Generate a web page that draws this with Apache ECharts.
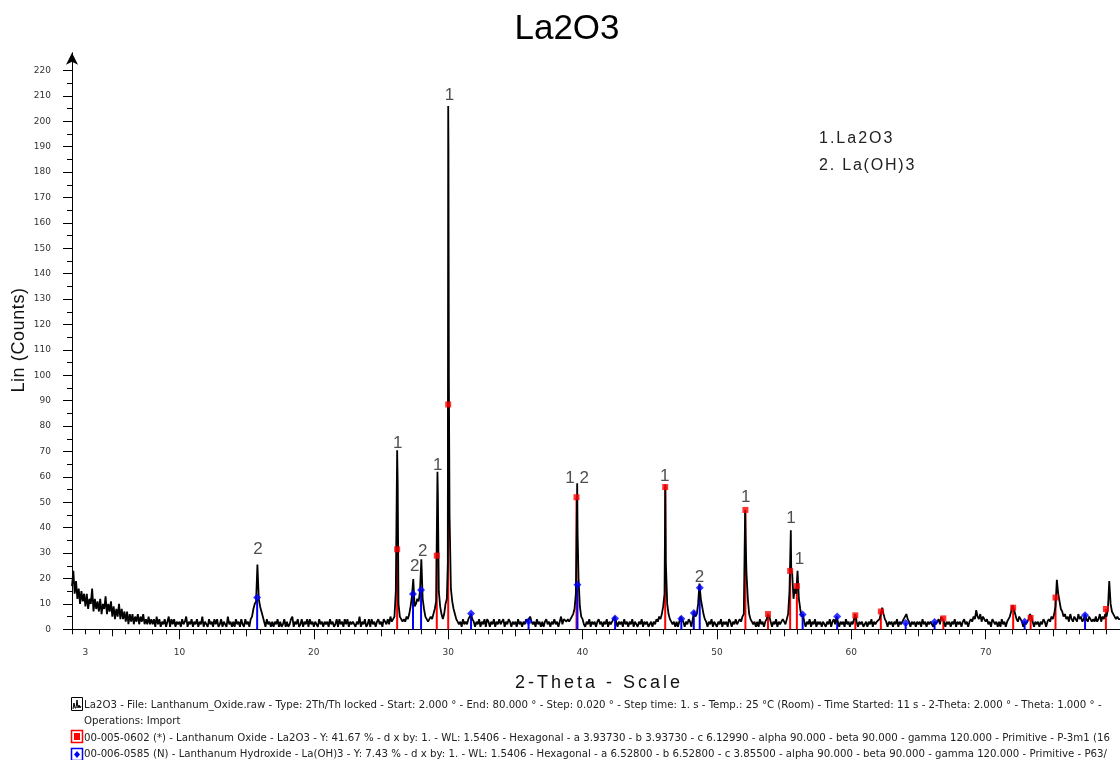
<!DOCTYPE html>
<html>
<head>
<meta charset="utf-8">
<title>La2O3</title>
<script src="https://cdn.jsdelivr.net/npm/echarts@6.0.0/dist/echarts.min.js"></script>
<style>
  html, body { margin: 0; padding: 0; background: #ffffff; }
  #chart { width: 1120px; height: 760px; }
</style>
</head>
<body>
<div id="chart"></div>
<script>
// Scan settings: 2-Theta start and grid step of the counts table below
const scanStart = 2.0;
const scanStep = 0.1;

// Lin (Counts), one row per degree of 2-Theta (x.0 ... x.9), ending at 80.0
const scanCounts = [
  17,23,14,19,12,16,10,15,11,14,   // 2
  9,14,8,12,10,16,7,12,8,11,       // 3
  7,12,6,10,8,13,6,10,7,11,        // 4
  5,9,4,8,5,10,4,8,4,7,            // 5
  3,7,2,6,3,6,2,5,3,6,             // 6
  2,5,3,6,2,4,2,5,2,4,             // 7
  2,4,1,5,2,4,1,3,2,4,             // 8
  1,3,5,1,4,2,4,1,3,2,             // 9
  3,1,4,2,3,5,1,3,2,4,             // 10
  1,3,2,4,1,3,2,5,1,3,             // 11
  3,1,4,2,3,1,4,2,4,1,             // 12
  2,4,1,3,2,1,5,2,3,1,             // 13
  3,1,4,2,3,1,4,2,1,4,             // 14
  2,3,1,4,5,8,10,11,25.5,12,       // 15
  9,7,5,3,1,4,2,3,1,3,             // 16
  1,3,2,4,1,3,1,2,4,1,             // 17
  3,1,2,4,5,1,3,2,4,1,             // 18
  2,4,1,3,2,4,1,4,2,3,             // 19
  1,3,2,1,4,2,3,1,3,2,             // 20
  3,1,4,2,3,1,2,4,1,4,             // 21
  2,3,1,4,2,4,1,3,2,3,             // 22
  3,1,3,2,5,1,3,2,4,1,             // 23
  2,4,1,4,2,3,1,3,4,2,             // 24
  3,1,4,3,2,4,2,5,3,4,             // 25
  5,15,70.5,10,5,4,3,4,3,5,        // 26
  4,6,9,13,19.8,9,10,12,11,15,     // 27
  27.6,12,8,5,4,3,4,5,4,6,         // 28
  8,11,62,15,9,6,4,6,10,12,        // 29
  206,45,16,11,8,6,4,3,2,3,        // 30
  1,4,2,3,2,4,5,6,4,3,             // 31
  1,3,2,4,1,3,2,4,1,4,             // 32
  3,1,3,2,4,1,3,2,4,2,             // 33
  2,4,1,3,2,4,3,1,3,2,             // 34
  3,1,4,2,3,1,3,2,4,3,             // 35
  4,5,3,2,3,1,4,2,3,1,             // 36
  3,1,3,4,2,3,1,3,2,4,             // 37
  2,3,1,3,5,2,4,4,3,4,             // 38
  3,4,5,6,8,14,57.5,20,9,5,        // 39
  4,2,1,3,2,4,1,3,2,3,             // 40
  1,3,4,2,3,1,3,2,4,1,             // 41
  3,2,3,4,5,3,1,3,2,3,             // 42
  1,4,2,3,1,3,2,4,1,3,             // 43
  3,1,3,2,4,1,3,2,3,1,             // 44
  2,3,1,3,2,4,3,5,4,6,             // 45
  9,14,26,10,6,4,3,2,3,1,          // 46
  3,1,3,5,4,3,1,3,2,4,             // 47
  3,1,4,7,5,6,10,18,12,9,          // 48
  6,4,3,1,3,2,4,1,3,2,             // 49
  1,3,2,4,1,3,2,3,1,4,             // 50
  3,1,3,2,4,2,3,4,3,5,             // 51
  6,47,22,12,6,4,3,2,3,1,          // 52
  3,1,4,2,3,1,3,4,6,5,             // 53
  3,1,3,2,4,1,3,2,3,4,             // 54
  3,2,4,6,15,39,22,12,16,14,       // 55
  23,12,8,5,6,3,1,3,2,4,           // 56
  1,3,2,4,1,3,2,3,1,3,             // 57
  3,1,3,2,4,1,3,4,2,5,             // 58
  3,1,3,2,3,1,4,2,3,1,             // 59
  3,2,4,6,3,1,3,2,3,1,             // 60
  2,3,1,3,2,4,1,3,2,3,             // 61
  3,4,6,8.5,6,4,3,1,3,2,           // 62
  3,1,3,2,4,1,3,2,3,4,             // 63
  5,6,4,3,1,3,2,3,1,3,             // 64
  2,3,1,4,2,3,1,3,2,3,             // 65
  3,1,3,2,3,4,2,5,4,3,             // 66
  1,3,2,3,1,3,2,4,1,3,             // 67
  2,3,1,3,4,2,3,1,3,4,             // 68
  3,5,4,7.5,5,4,6,3,5,4,           // 69
  3,4,2,3,1,4,3,2,3,1,             // 70
  3,1,4,2,3,1,3,4,5,7,             // 71
  9.5,8,6,4,3,5,4,3,1,3,           // 72
  2,3,4,6,5,3,1,3,2,3,             // 73
  1,3,2,4,3,1,3,4,3,5,             // 74
  4,6,9,19.5,14,11,8,7,5,6,        // 75
  4,5,3,6,4,3,5,4,3,6,             // 76
  4,5,3,4,6,4,3,5,4,3,             // 77
  4,3,5,3,4,6,3,5,4,6,             // 78
  5,8,19,10,7,6,5,4,5,4,           // 79
  4                                // 80
];

// Extra points on the flanks of the sharp reflections
const flankTheta  = [26.24, 29.23, 29.97, 30.02, 30.05, 39.63, 46.16, 46.19, 52.14, 55.53];
const flankCounts = [58,    53.5,  26,    188,   98,    38,    57,    35,    35,    24];

// 00-005-0602 Lanthanum Oxide (La2O3) reference lines
const la2o3Theta  = [26.2, 29.15, 30.0, 39.55, 46.15, 52.12, 53.8, 55.45, 55.95, 60.3, 62.2, 66.85, 72.05, 73.35, 75.2, 78.95];
const la2o3Counts = [31.5, 29,    88.5, 52,    56,    47,    6,    23,    17,    5.5,  7,    4.3,   8.5,   4.5,   12.5, 8];

// 00-006-0585 Lanthanum Hydroxide (La(OH)3) reference lines
const laoh3Theta  = [15.78, 27.38, 27.98, 31.7, 35.98, 39.62, 42.42, 47.35, 48.28, 48.72, 56.38, 58.95, 64.05, 66.2, 72.9, 77.4];
const laoh3Counts = [12.5,  13.9,  15.5,  6.2,  3.1,   17.5,  4.3,   4.2,   6.4,   16.4,  5.8,   5,     2.5,   2.9,  3,    5.5];

// Phase numbers written above the reflections
const peakTags   = ['2',   '1',   '2',  '2',   '1',  '1',   '1 2', '1',   '2',  '1',   '1',   '1'];
const peakTheta  = [15.85, 26.25, 27.5, 28.1,  29.22, 30.1, 39.6,  46.12, 48.7, 52.15, 55.52, 56.15];
const peakCounts = [31.4,  73.3,  24.9, 30.8,  64.7, 210.4, 59.6,  60.3,  20.4, 51.9,  43.5,  27.5];

// Axis ticks
const yTickValues  = [0,10,20,30,40,50,60,70,80,90,100,110,120,130,140,150,160,170,180,190,200,210,220];
const yMinorValues = [5,15,25,35,45,55,65,75,85,95,105,115,125,135,145,155,165,175,185,195,205,215];
const xTickLabels  = [3,10,20,30,40,50,60,70];
const xMajorValues = [10,20,30,40,50,60,70,80];
const xMidValues   = [5,15,25,35,45,55,65,75];

// Legend text
const phaseNames = ['1.La2O3', '2. La(OH)3'];
const xAxisName = '2-Theta - Scale';
const yAxisName = 'Lin (Counts)';
const footerLines = [
  'La2O3 - File: Lanthanum_Oxide.raw - Type: 2Th/Th locked - Start: 2.000 ° - End: 80.000 ° - Step: 0.020 ° - Step time: 1. s - Temp.: 25 °C (Room) - Time Started: 11 s - 2-Theta: 2.000 ° - Theta: 1.000 ° -',
  'Operations: Import',
  '00-005-0602 (*) - Lanthanum Oxide - La2O3 - Y: 41.67 % - d x by: 1. - WL: 1.5406 - Hexagonal - a 3.93730 - b 3.93730 - c 6.12990 - alpha 90.000 - beta 90.000 - gamma 120.000 - Primitive - P-3m1 (16',
  '00-006-0585 (N) - Lanthanum Hydroxide - La(OH)3 - Y: 7.43 % - d x by: 1. - WL: 1.5406 - Hexagonal - a 6.52800 - b 6.52800 - c 3.85500 - alpha 90.000 - beta 90.000 - gamma 120.000 - Primitive - P63/'
];

// Wider letter tracking (px) for a few of the captions; every other text keeps 0
const captionTracking = new Map([
  [phaseNames[0], 2],
  [phaseNames[1], 1.8],
  [xAxisName, 3],
  [yAxisName, 0.6]
]);
(function () {
  const proto = CanvasRenderingContext2D.prototype;
  if (!('letterSpacing' in proto)) return;
  const fillText = proto.fillText;
  proto.fillText = function (text) {
    const extra = captionTracking.get(text);
    const font = this.font;
    this.letterSpacing = (extra === undefined ? 0 : extra) + 'px';
    this.font = font;
    return fillText.apply(this, arguments);
  };
})();

// ---- build series data ----
const scanPoints = scanCounts.map((c, i) => [+(scanStart + i * scanStep).toFixed(2), c]);
const flankPoints = flankTheta.map((t, i) => [t, flankCounts[i]]);
const pattern = scanPoints.concat(flankPoints).sort((a, b) => a[0] - b[0]);
const la2o3Lines = la2o3Theta.map((t, i) => [t, la2o3Counts[i]]);
const laoh3Lines = laoh3Theta.map((t, i) => [t, laoh3Counts[i]]);
const tagPoints = peakTheta.map((t, i) => ({ value: [t, peakCounts[i]], name: peakTags[i] }));

const FONT_SMALL = 'DejaVu Sans';
const FONT_MAIN = '"Liberation Sans", Arial, sans-serif';

function stickRenderer(color) {
  return function (params, api) {
    const x = api.value(0);
    const y = api.value(1);
    const p0 = api.coord([x, 0]);
    const p1 = api.coord([x, y]);
    return {
      type: 'line',
      shape: { x1: p0[0], y1: p0[1], x2: p1[0], y2: p1[1] },
      style: { stroke: color, lineWidth: 2 }
    };
  };
}

const baseX = { type: 'value', min: 2, max: 80, position: 'bottom', splitLine: { show: false } };
const baseY = { type: 'value', min: 0, max: 227, position: 'left', splitLine: { show: false } };

const chart = echarts.init(document.getElementById('chart'), null, { renderer: 'canvas' });

const option = {
  animation: false,
  backgroundColor: '#ffffff',
  grid: { left: 72, right: -9, top: 52.7, bottom: 130.7, containLabel: false },
  xAxis: [
    Object.assign({}, baseX, {
      axisLine: { show: true, onZero: false, lineStyle: { color: '#000', width: 1 } },
      axisTick: { show: true, customValues: xMajorValues, length: 10, lineStyle: { color: '#000', width: 1 } },
      axisLabel: { show: true, customValues: xTickLabels, margin: 19, fontSize: 9, fontFamily: FONT_SMALL, color: '#333' }
    }),
    Object.assign({}, baseX, {
      axisLine: { show: false, onZero: false },
      axisTick: { show: true, customValues: xMidValues, length: 7, lineStyle: { color: '#000', width: 1 } },
      axisLabel: { show: false }
    }),
    Object.assign({}, baseX, {
      interval: 1,
      axisLine: { show: false, onZero: false },
      axisTick: { show: true, length: 5, lineStyle: { color: '#000', width: 1 } },
      axisLabel: { show: false }
    })
  ],
  yAxis: [
    Object.assign({}, baseY, {
      axisLine: { show: true, onZero: false, symbol: ['none', 'arrow'], symbolSize: [9, 12], lineStyle: { color: '#000', width: 1 } },
      axisTick: { show: true, customValues: yTickValues, length: 9, lineStyle: { color: '#000', width: 1 } },
      axisLabel: { show: true, customValues: yTickValues, margin: 21, fontSize: 9, fontFamily: FONT_SMALL, color: '#333' }
    }),
    Object.assign({}, baseY, {
      axisLine: { show: false, onZero: false },
      axisTick: { show: true, customValues: yMinorValues, length: 5, lineStyle: { color: '#000', width: 1 } },
      axisLabel: { show: false }
    })
  ],
  series: [
    {
      name: 'La2O3 reference',
      type: 'custom',
      coordinateSystem: 'cartesian2d',
      renderItem: stickRenderer('#ff0000'),
      data: la2o3Lines,
      z: 1,
      silent: true
    },
    {
      name: 'La(OH)3 reference',
      type: 'custom',
      coordinateSystem: 'cartesian2d',
      renderItem: stickRenderer('#0000ff'),
      data: laoh3Lines,
      z: 1,
      silent: true
    },
    {
      name: 'La2O3 scan',
      type: 'line',
      data: pattern,
      showSymbol: false,
      symbol: 'none',
      sampling: null,
      lineStyle: { color: '#000000', width: 1.8 },
      z: 3,
      silent: true
    },
    {
      name: 'La2O3 markers',
      type: 'scatter',
      data: la2o3Lines,
      symbol: 'rect',
      symbolSize: 6,
      itemStyle: { color: '#ff0000' },
      z: 4,
      silent: true
    },
    {
      name: 'La(OH)3 markers',
      type: 'scatter',
      data: laoh3Lines,
      symbol: 'diamond',
      symbolSize: [8, 8],
      itemStyle: { color: '#0000ff' },
      z: 4,
      silent: true
    },
    {
      name: 'phase tags',
      type: 'scatter',
      data: tagPoints,
      symbolSize: 0,
      label: {
        show: true,
        position: 'inside',
        formatter: p => p.name,
        fontFamily: FONT_MAIN,
        fontSize: 17,
        color: '#222'
      },
      z: 5,
      silent: true
    }
  ],
  graphic: {
    elements: [
      { type: 'text', x: 567, y: 29, style: { text: 'La2O3', font: '35px ' + FONT_MAIN, fill: '#000', textAlign: 'center', textVerticalAlign: 'middle' } },
      { type: 'text', x: 819, y: 139, style: { text: phaseNames[0], font: '16px ' + FONT_MAIN, fill: '#222', textAlign: 'left', textVerticalAlign: 'middle' } },
      { type: 'text', x: 819, y: 166, style: { text: phaseNames[1], font: '16px ' + FONT_MAIN, fill: '#222', textAlign: 'left', textVerticalAlign: 'middle' } },
      { type: 'text', x: 599, y: 683, style: { text: xAxisName, font: '18px ' + FONT_MAIN, fill: '#111', textAlign: 'center', textVerticalAlign: 'middle' } },
      { type: 'text', x: 19, y: 340, rotation: Math.PI / 2, style: { text: yAxisName, font: '18px ' + FONT_MAIN, fill: '#111', textAlign: 'center', textVerticalAlign: 'middle' } },

      // footer lines
      { type: 'text', x: 84, y: 705, style: { text: footerLines[0], font: '10.2px ' + FONT_SMALL, fill: '#222', textAlign: 'left', textVerticalAlign: 'middle' } },
      { type: 'text', x: 84, y: 721.5, style: { text: footerLines[1], font: '10.2px ' + FONT_SMALL, fill: '#222', textAlign: 'left', textVerticalAlign: 'middle' } },
      { type: 'text', x: 84, y: 738, style: { text: footerLines[2], font: '10.2px ' + FONT_SMALL, fill: '#222', textAlign: 'left', textVerticalAlign: 'middle' } },
      { type: 'text', x: 84, y: 754, style: { text: footerLines[3], font: '10.2px ' + FONT_SMALL, fill: '#222', textAlign: 'left', textVerticalAlign: 'middle' } },

      // footer icons: scan, La2O3 card, La(OH)3 card
      { type: 'rect', shape: { x: 71.5, y: 697.5, width: 11, height: 13 }, style: { fill: '#fff', stroke: '#000', lineWidth: 1 } },
      { type: 'polyline', shape: { points: [[73, 709], [74, 703], [75, 708], [76, 708], [77, 700], [78, 708], [79, 705], [80, 708], [81, 706]] }, style: { stroke: '#000', lineWidth: 1, fill: null } },
      { type: 'rect', shape: { x: 71.5, y: 730.5, width: 11, height: 12 }, style: { fill: '#fff', stroke: '#ff0000', lineWidth: 1.5 } },
      { type: 'rect', shape: { x: 74, y: 733, width: 6, height: 7 }, style: { fill: '#ff0000' } },
      { type: 'rect', shape: { x: 71.5, y: 748.5, width: 11, height: 12 }, style: { fill: '#fff', stroke: '#0000ff', lineWidth: 1.5 } },
      { type: 'polygon', shape: { points: [[77, 751], [80, 754.5], [77, 758], [74, 754.5]] }, style: { fill: '#0000ff' } }
    ]
  }
};

chart.setOption(option);
</script>
</body>
</html>
